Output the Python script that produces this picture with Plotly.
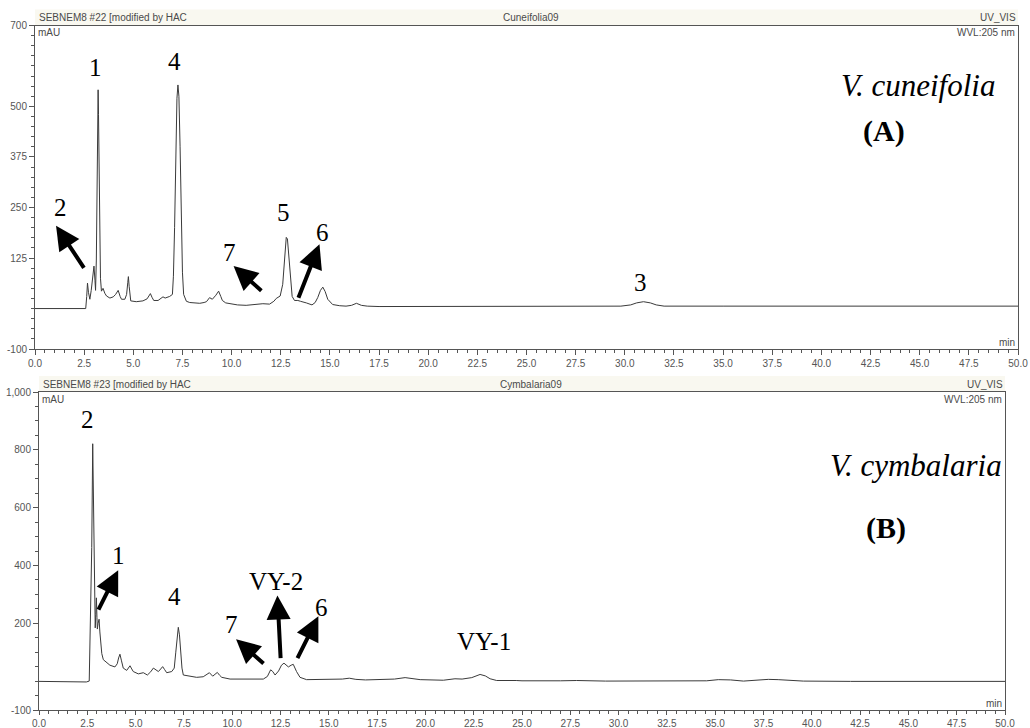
import plotly.graph_objects as go

W, H = 1030, 728

# ---- Data: panel A (V. cuneifolia), retention time (min) and absorbance (mAU)
time_a = [0.0, 1.0, 2.0, 2.58, 2.63, 2.67, 2.72, 2.79, 2.86, 2.94, 3.0, 3.05, 3.08, 3.12, 3.16, 3.19,
          3.21, 3.23, 3.26, 3.29, 3.33, 3.38, 3.46, 3.55, 3.64, 3.81, 3.98, 4.1, 4.23, 4.33, 4.4, 4.57,
          4.66, 4.72, 4.75, 4.79, 4.87, 5.15, 5.49, 5.7, 5.87, 5.95, 6.04, 6.26, 6.4, 6.51, 6.62, 6.72,
          6.85, 6.99, 7.04, 7.1, 7.16, 7.22, 7.27, 7.32, 7.38, 7.44, 7.5, 7.56, 7.7, 7.87, 8.1, 8.38,
          8.6, 8.72, 8.88, 9.02, 9.2, 9.34, 9.45, 9.53, 9.7, 9.9, 10.3, 10.74, 11.2, 11.59, 11.93, 12.15,
          12.27, 12.47, 12.6, 12.7, 12.78, 12.84, 12.92, 13.0, 13.08, 13.2, 13.37, 13.5, 13.62, 13.8,
          14.09, 14.25, 14.38, 14.52, 14.64, 14.76, 14.89, 15.14, 15.5, 15.82, 16.1, 16.35, 16.6, 16.9,
          17.5, 20.0, 22.5, 25.0, 27.5, 29.8, 30.3, 30.6, 30.95, 31.3, 31.6, 32.0, 35.0, 40.0, 45.0, 50.0]
mau_a = [0, 0, 0, 0, 30, 63, 40, 23, 45, 80, 105, 70, 45, 120, 330, 500,
         541, 480, 330, 170, 75, 43, 50, 38, 31, 26, 29, 35, 45, 30, 23, 23,
         35, 65, 79, 55, 19, 17, 19, 24, 37, 28, 20, 20, 24, 29, 26, 27,
         30, 35, 80, 200, 380, 520, 553, 525, 400, 230, 90, 35, 18, 15, 14, 13,
         15, 17, 27, 23, 33, 43, 30, 20, 14, 12, 9, 8, 10, 12, 11, 18,
         25, 31, 60, 130, 176, 172, 125, 65, 30, 20, 20, 18, 17, 14,
         9, 15, 27, 45, 53, 42, 23, 10, 7, 6, 8, 13, 8, 6,
         5, 5, 6, 6, 6, 6, 9, 14, 17, 14, 9, 6, 6, 6, 6, 6]

# ---- Data: panel B (V. cymbalaria)
time_b = [0.0, 1.0, 1.5, 2.0, 2.45, 2.6, 2.67, 2.73, 2.78, 2.81, 2.83, 2.86, 2.91, 2.94, 2.97, 3.0,
          3.02, 3.06, 3.11, 3.15, 3.19, 3.25, 3.33, 3.5, 3.67, 3.93, 4.05, 4.12, 4.19, 4.27, 4.36, 4.54,
          4.63, 4.71, 4.8, 4.88, 5.14, 5.4, 5.61, 5.78, 5.92, 6.05, 6.18, 6.3, 6.4, 6.5, 6.61, 6.87,
          7.0, 7.08, 7.15, 7.21, 7.27, 7.33, 7.4, 7.47, 7.82, 8.16, 8.5, 8.68, 8.82, 8.99, 9.1, 9.23,
          9.35, 9.46, 9.89, 10.75, 11.61, 11.82, 11.99, 12.1, 12.22, 12.4, 12.55, 12.68, 12.8, 12.91,
          13.05, 13.16, 13.33, 13.51, 13.85, 15.06, 15.7, 16.06, 16.4, 16.9, 17.8, 18.4, 18.95, 19.4,
          19.73, 20.93, 21.53, 21.9, 22.4, 22.83, 23.1, 23.35, 23.69, 24.7, 25.0, 27.0, 27.83, 29.33,
          32.0, 34.56, 35.16, 35.8, 36.46, 37.2, 37.75, 38.26, 39.56, 42.0, 45.0, 50.0]
mau_b = [-1, -2, -4, -4, -3, 0, 218, 462, 821, 700, 579, 357, 184, 230, 288, 220,
         180, 200, 214, 170, 137, 95, 74, 66, 55, 49, 60, 80, 93, 70, 45, 37,
         45, 53, 42, 33, 25, 29, 21, 32, 45, 40, 33, 42, 50, 40, 29, 33,
         45, 100, 165, 186, 160, 100, 45, 21, 16, 13, 15, 22, 29, 17, 22, 30,
         20, 13, 7, 7, 7, 16, 39, 33, 21, 35, 55, 62, 55, 49,
         55, 58, 33, 13, 5, 5, 7, 10, 6, 4, 5, 7, 12, 8,
         5, 3, 8, 7, 12, 23, 18, 8, 2, 2, 1, 1, 2, 0,
         0, 1, 5, 4, 0, 4, 6, 5, 0, -1, -1, -1]

x_ticks = [0.0, 2.5, 5.0, 7.5, 10.0, 12.5, 15.0, 17.5, 20.0, 22.5, 25.0, 27.5, 30.0, 32.5, 35.0,
           37.5, 40.0, 42.5, 45.0, 47.5, 50.0]
ya_ticks = [-100, 125, 250, 375, 500, 700]
yb_ticks = [-100, 200, 400, 600, 800, 1000]
yb_ticktext = ["-100", "200", "400", "600", "800", "1,000"]

# peak labels: (text, time, mAU)
labels_a = [("1", 3.1, 597), ("4", 7.07, 612), ("2", 1.32, 250), ("5", 12.64, 238),
            ("6", 14.63, 188), ("7", 9.9, 138), ("3", 30.8, 64)]
labels_b = [("2", 2.52, 905), ("1", 4.14, 433), ("4", 6.99, 294), ("7", 9.94, 195),
            ("VY-2", 12.27, 346), ("6", 14.6, 253), ("VY-1", 23.03, 137)]
# arrows: (tail time, tail mAU, head time, head mAU)
arrows_a = [(2.54, 97, 1.07, 205), (11.59, 41, 10.1, 105), (13.37, 23, 14.47, 159)]
arrows_b = [(3.04, 242, 4.1, 383), (11.7, 56, 10.2, 145), (12.51, 74, 12.34, 296),
            (13.34, 74, 14.46, 224)]

# ---- geometry (pixels)
A_X0, A_X1, A_Y0, A_Y1 = 35, 1018, 349, 25.5
B_X0, B_X1, B_Y0, B_Y1 = 39, 1005, 710, 392

def px(x):
    return x / W

def py(y):
    return 1 - y / H

LINE = '#3a3a3a'
AXC = '#555555'
TICKFONT = dict(family='Liberation Sans, Arial, sans-serif', size=10, color='#555555')
SERIF = 'Liberation Serif, Times New Roman, serif'

fig = go.Figure()
fig.add_trace(go.Scatter(x=time_a, y=mau_a, mode='lines', line=dict(color=LINE, width=1),
                         xaxis='x', yaxis='y', hoverinfo='skip', showlegend=False))
fig.add_trace(go.Scatter(x=time_b, y=mau_b, mode='lines', line=dict(color=LINE, width=1),
                         xaxis='x2', yaxis='y2', hoverinfo='skip', showlegend=False))

def xaxis_cfg(x0, x1, anchor, tlen):
    return dict(domain=[px(x0), px(x1)], range=[0, 50], anchor=anchor, tickmode='array',
                tickvals=x_ticks, ticktext=[f"{v:.1f}" for v in x_ticks], ticks='outside',
                ticklen=tlen, tickcolor=AXC, showline=True, linecolor=AXC, linewidth=1, mirror=True,
                showgrid=False, zeroline=False, tickfont=TICKFONT, automargin=False,
                minor=dict(tickmode='linear', tick0=0, dtick=0.5, ticks='outside', ticklen=3,
                           tickcolor=AXC, showgrid=False))

def yaxis_cfg(y0, y1, rng, tv, tt, mdt, anchor):
    return dict(domain=[py(y0), py(y1)], range=rng, anchor=anchor, tickmode='array',
                tickvals=tv, ticktext=tt, ticks='outside', ticklen=5, tickcolor=AXC,
                showline=True, linecolor=AXC, linewidth=1, mirror=True, showgrid=False,
                zeroline=False, tickfont=TICKFONT, automargin=False,
                minor=dict(tickmode='linear', tick0=0, dtick=mdt, ticks='outside', ticklen=3,
                           tickcolor=AXC, showgrid=False))

shapes = []
annotations = []

# header bands
for (x0, x1, ytop) in [(A_X0, A_X1, A_Y1), (B_X0, B_X1, B_Y1)]:
    shapes.append(dict(type='rect', xref='paper', yref='paper', x0=px(x0), x1=px(x1),
                       y0=py(ytop), y1=py(ytop - 16), fillcolor='#f9f8f0', line=dict(width=0),
                       layer='below'))

HDR = dict(family='Liberation Sans, Arial, sans-serif', size=10, color='#4a4a4a')

def header(x0, x1, ytop, sample, name):
    yc = ytop - 8
    annotations.extend([
        dict(text=sample, x=px(x0 + 2), y=py(yc), xref='paper', yref='paper', xanchor='left',
             yanchor='middle', showarrow=False, font=HDR),
        dict(text=name, x=px(531), y=py(yc), xref='paper', yref='paper', xanchor='center',
             yanchor='middle', showarrow=False, font=HDR),
        dict(text='UV_VIS', x=px(x1), y=py(yc), xref='paper', yref='paper', xanchor='right',
             yanchor='middle', showarrow=False, font=HDR),
        dict(text='mAU', x=px(x0 + 1), y=py(ytop + 7), xref='paper', yref='paper',
             xanchor='left', yanchor='middle', showarrow=False, font=HDR),
        dict(text='WVL:205 nm', x=px(x1 - 1), y=py(ytop + 7), xref='paper', yref='paper',
             xanchor='right', yanchor='middle', showarrow=False, font=HDR),
    ])

header(A_X0, A_X1, A_Y1, 'SEBNEM8 #22 [modified by HAC', 'Cuneifolia09')
header(B_X0, B_X1, B_Y1, 'SEBNEM8 #23 [modified by HAC', 'Cymbalaria09')

annotations.append(dict(text='min', x=px(A_X1 - 1), y=py(A_Y0 - 7), xref='paper', yref='paper',
                        xanchor='right', yanchor='middle', showarrow=False, font=HDR))
annotations.append(dict(text='min', x=px(B_X1 - 1), y=py(B_Y0 - 7), xref='paper', yref='paper',
                        xanchor='right', yanchor='middle', showarrow=False, font=HDR))

# species titles
annotations.extend([
    dict(text='<i>V. cuneifolia</i>', x=px(918), y=py(85), xref='paper', yref='paper',
         xanchor='center', yanchor='middle', showarrow=False,
         font=dict(family=SERIF, size=31, color='black')),
    dict(text='<b>(A)</b>', x=px(884), y=py(131), xref='paper', yref='paper',
         xanchor='center', yanchor='middle', showarrow=False,
         font=dict(family=SERIF, size=30, color='black')),
    dict(text='<i>V. cymbalaria</i>', x=px(916), y=py(466), xref='paper', yref='paper',
         xanchor='center', yanchor='middle', showarrow=False,
         font=dict(family=SERIF, size=31, color='black')),
    dict(text='<b>(B)</b>', x=px(886), y=py(528), xref='paper', yref='paper',
         xanchor='center', yanchor='middle', showarrow=False,
         font=dict(family=SERIF, size=30, color='black')),
])

for labels, xr, yr in [(labels_a, 'x', 'y'), (labels_b, 'x2', 'y2')]:
    for txt, t, v in labels:
        annotations.append(dict(text=txt, x=t, y=v, xref=xr, yref=yr, xanchor='center',
                                yanchor='middle', showarrow=False,
                                font=dict(family=SERIF, size=25, color='black')))

for arrows, xr, yr in [(arrows_a, 'x', 'y'), (arrows_b, 'x2', 'y2')]:
    for t0, v0, t1, v1 in arrows:
        annotations.append(dict(text='', x=t1, y=v1, ax=t0, ay=v0, xref=xr, yref=yr,
                                axref=xr, ayref=yr, showarrow=True, arrowhead=2, arrowsize=1.2,
                                arrowwidth=4, arrowcolor='black', standoff=0, startstandoff=0))

fig.update_layout(
    width=W, height=H, autosize=False, margin=dict(l=0, r=0, t=0, b=0),
    paper_bgcolor='white', plot_bgcolor='white', showlegend=False,
    xaxis=xaxis_cfg(A_X0, A_X1, 'y', 5),
    yaxis=yaxis_cfg(A_Y0, A_Y1, [-100, 700], ya_ticks, [str(v) for v in ya_ticks], 25, 'x'),
    xaxis2=xaxis_cfg(B_X0, B_X1, 'y2', 4),
    yaxis2=yaxis_cfg(B_Y0, B_Y1, [-100, 1000], yb_ticks, yb_ticktext, 50, 'x2'),
    shapes=shapes, annotations=annotations,
)

fig.write_html('out.html', config={'displayModeBar': False},
               post_script="document.body.style.margin='0';document.body.style.overflow='hidden';")
